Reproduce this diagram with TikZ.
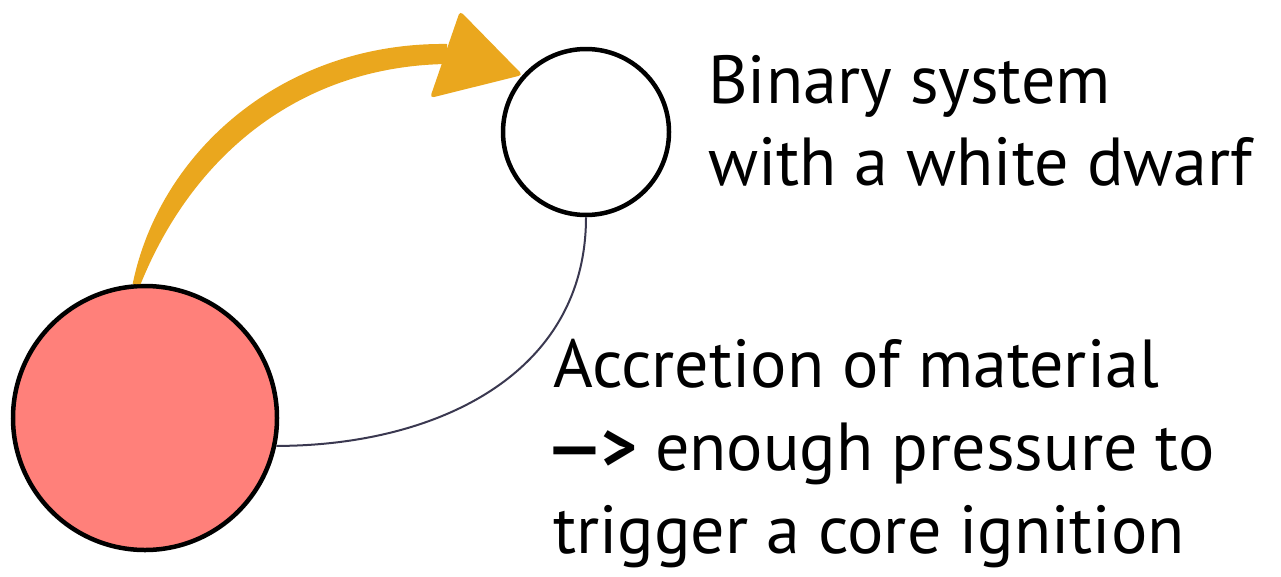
\documentclass[tikz,border=0pt]{standalone}
\usepackage{fontspec}
\setmainfont{PT Sans}
\definecolor{starred}{RGB}{255,128,122}
\definecolor{brush}{RGB}{234,167,30}
\definecolor{orbitc}{RGB}{58,56,80}
\begin{document}
\begin{tikzpicture}[x=1pt,y=-1pt,
  star/.style={circle, draw=black, line width=4.5pt, inner sep=0pt, minimum size=#1},
  orbit/.style={draw=orbitc, line width=2pt},
  label/.style={anchor=base west, inner sep=0pt, font=\fontsize{68}{83}\selectfont}]
\useasboundingbox (0,0) rectangle (1281,576);
\node[star=264, fill=starred] (red) at (145,418) {};
\node[star=166, fill=white] (wd) at (586,132) {};
% orbit
\draw[orbit] (red.-12) to[out=0, in=-90, looseness=1.05] (wd.south);
\draw[orbit] (red.94) -- ++(4,-14);
% brush arrow
\fill[brush] ([xshift=-3pt]red.94) .. controls (160,150) and (285,42) .. (447,44)
  -- (447,64) .. controls (305,66) and (195,150) .. ([xshift=5pt]red.94) -- cycle;
\fill[brush, rounded corners=4pt] (430,98) -- (460,11) -- (wd.138) -- cycle;
% labels
\node[label] (t1) at (708,103) {Binary system};
\node[label] (t2) at (708,185) {with a white dwarf};
\node[label] (b1) at (553,387) {Accretion of material};
\node[label] (b2) at (553,470) {\textbf{\kern-10pt\scalebox{1.4}[1]{--}\kern-5pt>} enough pressure to};
\node[label] (b3) at (553,553) {trigger a core ignition};
\end{tikzpicture}
\end{document}
